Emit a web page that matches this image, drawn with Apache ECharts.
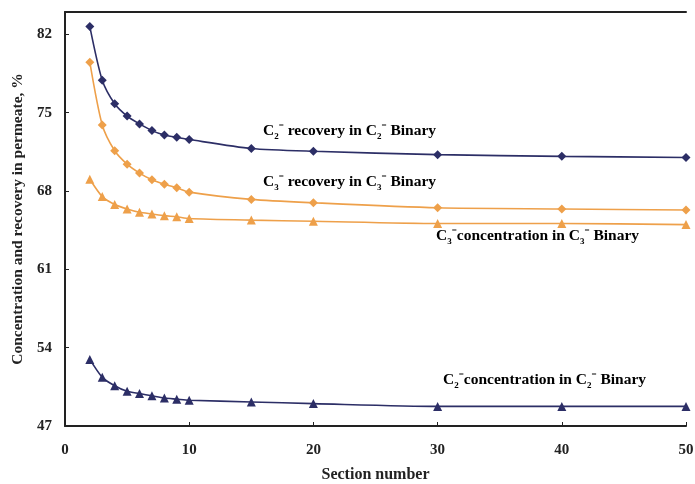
<!DOCTYPE html>
<html>
<head>
<meta charset="utf-8">
<script src="https://cdn.jsdelivr.net/npm/echarts@6/dist/echarts.min.js"></script>
<style>
  html, body { margin: 0; padding: 0; background: #fff; }
  #main { width: 695px; height: 484px; }
</style>
</head>
<body>
<div id="main"></div>
<script>
// section numbers
const sections = [2, 3, 4, 5, 6, 7, 8, 9, 10, 15, 20, 30, 40, 50];
// C2= recovery in C2= binary
const c2Recovery = [82.7, 77.9, 75.8, 74.7, 74.0, 73.4, 73.0, 72.8, 72.6, 71.8, 71.55, 71.25, 71.1, 71.0];
// C3= recovery in C3= binary
const c3Recovery = [79.5, 73.9, 71.6, 70.4, 69.6, 69.0, 68.6, 68.3, 67.9, 67.25, 66.95, 66.5, 66.4, 66.3];
// C3= concentration in C3= binary
const c3Conc = [69.05, 67.5, 66.8, 66.4, 66.1, 65.95, 65.8, 65.7, 65.55, 65.4, 65.3, 65.1, 65.1, 65.0];
// C2= concentration in C2= binary
const c2Conc = [52.95, 51.35, 50.6, 50.1, 49.9, 49.7, 49.5, 49.4, 49.3, 49.15, 49.0, 48.75, 48.75, 48.75];
const yTicks = [47, 54, 61, 68, 75, 82];

const navy = '#2c2e66';
const orange = '#eea04a';
const font = 'Liberation Serif';

function pairs(ys) {
    return sections.map((x, i) => [x, ys[i]]);
}

// label text: C{sub}{sup}
const rich = {
    t: { fontFamily: font, fontWeight: 'bold', fontSize: 15.5, color: '#222', lineHeight: 20 },
    sub: { fontFamily: font, fontWeight: 'bold', fontSize: 9, color: '#222', verticalAlign: 'bottom', lineHeight: 20 },
    sup: { fontFamily: font, fontWeight: 'bold', fontSize: 9, color: '#222', verticalAlign: 'top', lineHeight: 20 }
};
function formula(n, a, b) {
    return '{t|C}{sub|' + n + '}{sup|=}{t|' + a + ' C}{sub|' + n + '}{sup|=}{t|' + b + '}';
}

const chart = echarts.init(document.getElementById('main'));

function series(name, data, color, symbol) {
    return {
        name: name,
        type: 'line',
        data: pairs(data),
        symbol: symbol,
        symbolSize: 9,
        lineStyle: { color: color, width: 1.6 },
        itemStyle: { color: color },
        smooth: 0.25,
        silent: true
    };
}

let option = {
    backgroundColor: '#fff',
    animation: false,
    grid: { left: 65, right: 9, top: 12, bottom: 58, outerBoundsMode: 'none' },
    xAxis: [{
        type: 'value',
        min: 0,
        max: 50,
        interval: 10,
        name: 'Section number',
        nameLocation: 'middle',
        nameGap: 41,
        nameTextStyle: { fontFamily: font, fontWeight: 'bold', fontSize: 16, color: '#222' },
        axisLine: { lineStyle: { color: '#222', width: 2 } },
        axisTick: { inside: true, length: 4, lineStyle: { color: '#222' } },
        axisLabel: { fontFamily: font, fontWeight: 'bold', fontSize: 15, color: '#222', margin: 17 },
        splitLine: { show: false }
    }, {
        type: 'value',
        position: 'top',
        min: 0,
        max: 50,
        axisLine: { show: true, onZero: false, lineStyle: { color: '#222', width: 2 } },
        axisTick: { show: false },
        axisLabel: { show: false },
        splitLine: { show: false }
    }],
    yAxis: {
        type: 'value',
        min: 47,
        max: 84,
        name: 'Concentration and recovery in permeate, %',
        nameLocation: 'middle',
        nameGap: 39,
        nameTextStyle: { fontFamily: font, fontWeight: 'bold', fontSize: 15.5, color: '#222' },
        axisLine: { show: true, lineStyle: { color: '#222', width: 2 } },
        axisTick: { show: true, inside: true, length: 4, customValues: yTicks, lineStyle: { color: '#222' } },
        axisLabel: { fontFamily: font, fontWeight: 'bold', fontSize: 15, color: '#222', margin: 13, customValues: yTicks },
        splitLine: { show: false }
    },
    series: [
        series('c2rec', c2Recovery, navy, 'diamond'),
        series('c3rec', c3Recovery, orange, 'diamond'),
        series('c3conc', c3Conc, orange, 'triangle'),
        series('c2conc', c2Conc, navy, 'triangle')
    ],
    graphic: [
        { type: 'text', left: 263, top: 121, style: { text: formula(2, ' recovery in', ' Binary'), rich: rich } },
        { type: 'text', left: 263, top: 172, style: { text: formula(3, ' recovery in', ' Binary'), rich: rich } },
        { type: 'text', left: 436, top: 226, style: { text: formula(3, 'concentration in', ' Binary'), rich: rich } },
        { type: 'text', left: 443, top: 370, style: { text: formula(2, 'concentration in', ' Binary'), rich: rich } }
    ]
};

chart.setOption(option);
</script>
</body>
</html>
